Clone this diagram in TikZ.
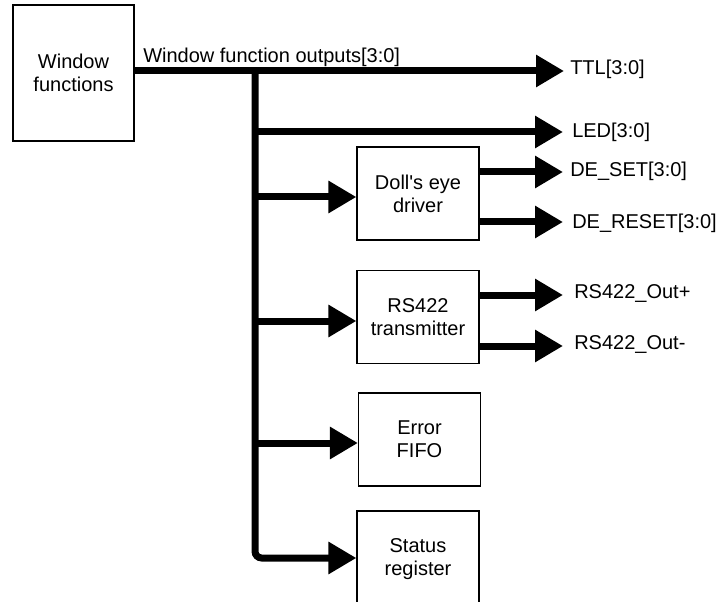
\documentclass[tikz,border=0pt]{standalone}
\usepackage{fontspec}
\setmainfont{Liberation Sans}[Ligatures=TeXOff]
\usetikzlibrary{arrows.meta}
\begin{document}
\begin{tikzpicture}[x=0.75pt,y=-0.75pt,
  box/.style={draw, line width=0.9pt, minimum width=91.5pt, minimum height=69.75pt,
    align=center, inner sep=0pt, font=\fontsize{15}{17.3}\selectfont},
  bus/.style={line width=5.25pt, -{Triangle[length=21pt,width=23pt]}},
  lbl/.style={anchor=west, inner sep=0pt, font=\fontsize{15}{18}\selectfont}]
\useasboundingbox (0,0) rectangle (717,602);
\begin{scope}
\clip (0,0) rectangle (717,602);
% boxes
\node[box, minimum width=90.75pt, minimum height=102pt] (win) at (73.5,73) {Window\\functions};
\node[box] (doll) at (418,193.5) {Doll's eye\\driver};
\node[box] (rs) at (418,317) {RS422\\transmitter};
\node[box] (err) at (419.5,439.5) {Error\\FIFO};
\node[box, minimum height=72pt] (stat) at (418,559) {Status\\register};
\end{scope}
% labels
\node[anchor=base west, inner sep=0pt, font=\fontsize{15}{18}\selectfont] (wfo) at (143,63) {Window function outputs[3:0]};
\node[lbl] (ttl) at (570,69) {TTL[3:0]};
\node[lbl] (led) at (572,132) {LED[3:0]};
\node[lbl] (deset) at (570,171) {DE\_SET[3:0]};
\node[lbl] (dereset) at (572,223) {DE\_RESET[3:0]};
\node[lbl] (rsp) at (574,294) {RS422\_Out+};
\node[lbl] (rsm) at (574,345) {RS422\_Out-};
% coordinates
\coordinate (busTop) at (255,71);
\coordinate (busBot) at (255,558);
\coordinate (ttlTip) at (564,71);
\coordinate (ledJ) at (255,132);
\coordinate (ledTip) at (563,132);
\coordinate (dJ) at (255,197);
\coordinate (rJ) at (255,321);
\coordinate (eJ) at (255,443);
\coordinate (desetTip) at (563,172);
\coordinate (deresetTip) at (563,222);
\coordinate (rspTip) at (563,295);
\coordinate (rsmTip) at (563,346);
% connectors
\draw[bus] (win.east |- busTop) -- (ttlTip);
\draw[bus, rounded corners=5pt] (busTop) -- (busBot) -- (busBot -| stat.west);
\draw[bus] (ledJ) -- (ledTip);
\draw[bus] (dJ) -- (dJ -| doll.west);
\draw[bus] (rJ) -- (rJ -| rs.west);
\draw[bus] (eJ) -- (eJ -| err.west);
\draw[bus] (doll.east |- desetTip) -- (desetTip);
\draw[bus] (doll.east |- deresetTip) -- (deresetTip);
\draw[bus] (rs.east |- rspTip) -- (rspTip);
\draw[bus] (rs.east |- rsmTip) -- (rsmTip);
\end{tikzpicture}
\end{document}
